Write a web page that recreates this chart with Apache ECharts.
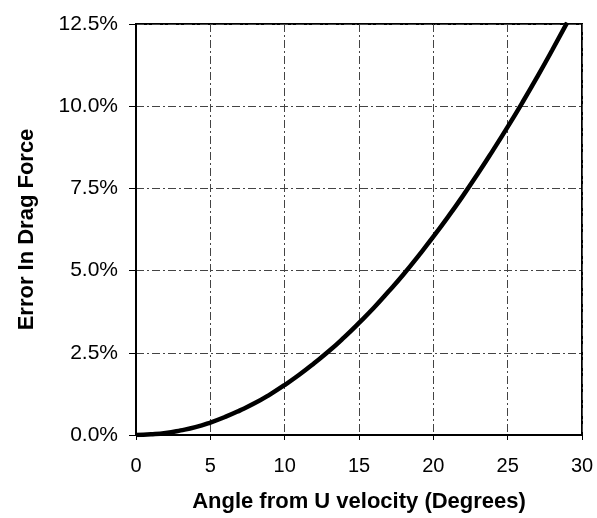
<!DOCTYPE html>
<html><head><meta charset="utf-8">
<script src="https://cdn.jsdelivr.net/npm/echarts@6/dist/echarts.min.js"></script>
<style>html,body{margin:0;padding:0;background:#fff}#c{width:597px;height:518px}</style>
</head><body><div id="c"></div>
<script>
const angles = [0,1,2,3,4,5,6,7,8,9,10,11,12,13,14,15,16,17,18,19,20,21,22,23,24,25,26,27,28,29];
const errorPct = [0,0.02,0.06,0.14,0.24,0.38,0.55,0.75,0.97,1.23,1.52,1.84,2.19,2.56,2.97,3.41,3.87,4.37,4.89,5.45,6.03,6.64,7.28,7.95,8.65,9.37,10.12,10.90,11.71,12.54];
const xTitle = 'Angle from U velocity (Degrees)';
const yTitle = 'Error In Drag Force';

const chart = echarts.init(document.getElementById('c'), null, {renderer:'canvas'});
const font = 'Liberation Sans, Arial, sans-serif';
const gridLine = {show:true, lineStyle:{color:'#444', width:1, type:[8,3,2,3]}};
chart.setOption({
  animation:false,
  backgroundColor:'#fff',
  grid:{left:136, right:15, top:24, bottom:82, show:true, borderColor:'#000', borderWidth:2, backgroundColor:'transparent'},
  xAxis:{type:'value', min:0, max:30, interval:5,
    name:xTitle, nameLocation:'middle', nameGap:56,
    nameTextStyle:{fontFamily:font, fontWeight:'bold', fontSize:22, color:'#000'},
    axisLine:{show:true, onZero:false, lineStyle:{color:'#000', width:2}},
    axisTick:{show:true, length:5, lineStyle:{color:'#000'}},
    axisLabel:{fontFamily:font, fontSize:20, color:'#000', margin:21},
    splitLine:gridLine},
  yAxis:{type:'value', min:0, max:12.5, interval:2.5,
    name:yTitle, nameLocation:'middle', nameGap:98, nameRotate:90,
    nameTextStyle:{fontFamily:font, fontWeight:'bold', fontSize:22, color:'#000'},
    axisLine:{show:true, lineStyle:{color:'#000', width:2}},
    axisTick:{show:true, length:7, lineStyle:{color:'#000'}},
    axisLabel:{fontFamily:font, fontSize:21, color:'#000', margin:18, padding:[0,0,6,0], formatter:v=>v.toFixed(1)+'%'},
    splitLine:gridLine},
  series:[{type:'line', data:angles.map((a,i)=>[a,errorPct[i]]), smooth:true, showSymbol:false,
    clip:true, lineStyle:{color:'#000', width:4.5}}]
});
</script></body></html>
